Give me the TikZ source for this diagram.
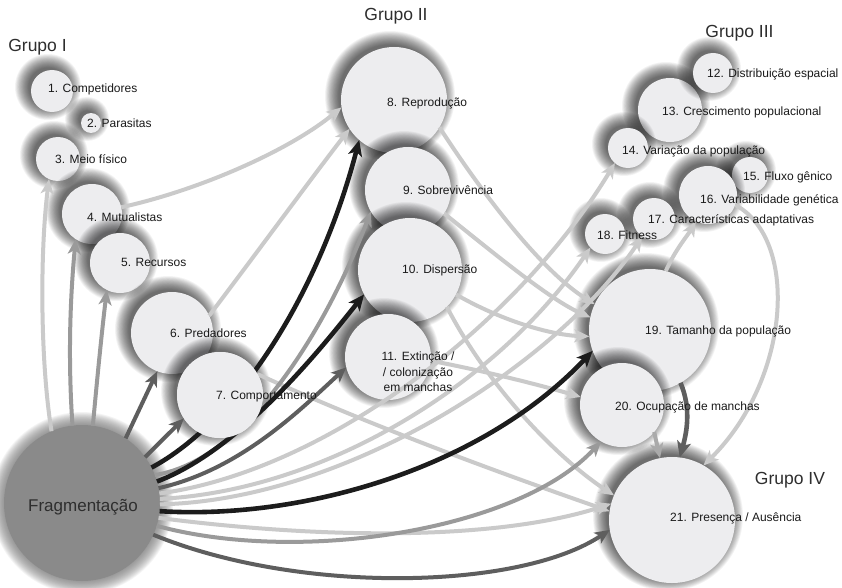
\documentclass[tikz,border=0pt]{standalone}
\usepackage{fontspec}
\setmainfont{Liberation Sans}
\usetikzlibrary{arrows.meta}
\definecolor{lightc}{HTML}{CACACA}
\definecolor{lmidc}{HTML}{AAAAAA}
\definecolor{midc}{HTML}{9A9A9A}
\definecolor{darkc}{HTML}{5E5E5E}
\definecolor{blackc}{HTML}{1C1C1C}
\definecolor{bubfill}{HTML}{EDEDEF}
\definecolor{fragfill}{HTML}{8A8A8A}
\definecolor{txt}{HTML}{1A1A1A}
\definecolor{grpc}{HTML}{2E2E2E}
\newcommand{\bub}[4]{%
  \foreach \k in {0,...,17}{%
    \pgfmathsetlengthmacro{\rr}{#4+12-0.8*\k}%
    \fill[black,opacity=0.045] (#2-4,#3-4) circle[radius=\rr];
  }%
  \node[bubble,minimum size={2*#4pt}] (#1) at (#2,#3) {};
}
\begin{document}
\begin{tikzpicture}[x=1pt,y=-1pt,
  bubble/.style={circle,fill=bubfill,inner sep=0pt,outer sep=0pt},
  lbl/.style={font=\fontsize{12}{14}\selectfont,text=txt,inner sep=0pt,anchor=west},
  grp/.style={font=\fontsize{17.5}{20}\selectfont,text=grpc,inner sep=0pt},
  arr/.style={line width=4pt,-{Stealth[length=15pt,width=13pt,inset=4pt]}},
  arrb/.style={line width=4.6pt,-{Stealth[length=16pt,width=14pt,inset=4pt]}}]
\useasboundingbox (0,0) rectangle (842,588);
\fill[white] (0,0) rectangle (842,588);

% ---------- bubbles ----------
\bub{c1}{52}{91}{21}
\bub{c2}{91}{123}{10}
\bub{c3}{58}{159}{22}
\bub{c4}{92}{214}{30}
\bub{c5}{120}{263}{30}
\bub{c6}{172}{333}{41}
\bub{c7}{220}{395}{43}
\bub{c8}{394}{100}{53}
\bub{c9}{408}{190}{43}
\bub{c10}{410}{270}{52}
\bub{c11}{388}{357}{43}
\bub{c13}{670}{110}{32}
\bub{c12}{713}{73}{20}
\bub{c14}{628}{148}{20}
\bub{c15}{750}{175}{18}
\bub{c16}{708}{195}{29}
\bub{c17}{654}{219}{21}
\bub{c18}{605}{234}{20}
\bub{c19}{650}{330}{61}
\bub{c20}{622}{405}{42}
\bub{c21}{672}{520}{63}

% Fragmentacao
\foreach \k in {0,...,15}{%
  \pgfmathsetlengthmacro{\rr}{91-0.85*\k}%
  \fill[black!55,opacity=0.07] (82,503) circle[radius=\rr];
}
\node[circle,fill=fragfill,inner sep=0pt,outer sep=0pt,minimum size=156pt] (F) at (82,503) {};

% ---------- light arrows ----------
\draw[arr,lightc] (F.113) .. controls (40,360) and (40,250) .. (c3.-114);
\draw[arr,lightc] (c4.13) .. controls (200,190) and (290,150) .. (c8.-172);
\draw[arr,lightc] (c6.25) .. controls (250,262) and (310,180) .. (c8.-147);
\draw[arr,lightc] (F.7) .. controls (330,470) and (520,320) .. (c14.-131);
\draw[arr,lightc] (F.3) .. controls (330,490) and (500,380) .. (c18.-137);
\draw[arr,lightc] (F.-1) .. controls (350,500) and (560,360) .. (c17.-124);
\draw[arr,lightc] (c8.-31) .. controls (480,190) and (540,270) .. (c19.155);
\draw[arr,lightc] (c9.-33) .. controls (490,250) and (550,300) .. (c19.168);
\draw[arr,lightc] (c10.-28) .. controls (500,320) and (550,335) .. (c19.186);
\draw[arr,lightc] (c10.-45) .. controls (490,390) and (560,460) .. (c21.157);
\draw[arr,lightc] (c11.-5) .. controls (480,370) and (540,385) .. (c20.169);
\draw[arr,lightc] (c7.29) .. controls (380,430) and (520,480) .. (c21.172);
\draw[arr,lightc] (F.-11) .. controls (330,540) and (500,540) .. (c21.165);
\draw[arr,lightc] (c19.75) .. controls (675,250) and (688,235) .. (c16.-115);
\draw[arr,lightc] (c16.-20) .. controls (800,240) and (790,380) .. (c21.60);
\draw[arr,lmidc] (c20.-40) -- (c21.101);

% ---------- mid arrows ----------
\draw[arr,midc] (F.97) .. controls (68,360) and (70,300) .. (c4.-123);
\draw[arr,midc] (F.82) .. controls (97,380) and (102,330) .. (c5.-116);
\draw[arr,midc] (F.21) .. controls (250,460) and (330,320) .. (c9.-150);
\draw[arr,midc] (F.-17) .. controls (300,565) and (520,530) .. (c20.-120);

% ---------- dark arrows ----------
\draw[arr,darkc] (F.56) -- (c6.-111);
\draw[arr,darkc] (F.36) -- (c7.-147);
\draw[arr,darkc] (F.11) .. controls (240,470) and (300,410) .. (c11.-166);
\draw[arr,darkc] (F.-24) .. controls (300,595) and (520,590) .. (c21.-171);
\draw[arrb,darkc] (c19.-60) .. controls (692,410) and (686,435) .. (c21.83);

% ---------- black arrows ----------
\draw[arrb,blackc] (F.27) .. controls (240,420) and (320,290) .. (c8.-131);
\draw[arrb,blackc] (F.16) .. controls (240,450) and (320,350) .. (c10.-152);
\draw[arrb,blackc] (F.-6) .. controls (300,520) and (480,470) .. (c19.-160);

% lines that pass behind circle 7
\fill[bubfill] (c7.center) circle[radius=43pt];

% ---------- labels ----------
\node[lbl] (t1) at (48,89) {1. Competidores};
\node[lbl] (t2) at (87,123) {2. Parasitas};
\node[lbl] (t3) at (55,159) {3. Meio físico};
\node[lbl] (t4) at (87,217) {4. Mutualistas};
\node[lbl] (t5) at (121,262) {5. Recursos};
\node[lbl] (t6) at (170,333) {6. Predadores};
\node[lbl] (t7) at (216,397) {7. Comportamento};
\node[lbl] (t8) at (387,103) {8. Reprodução};
\node[lbl] (t9) at (403,190) {9. Sobrevivência};
\node[lbl] (t10) at (402,270) {10. Dispersão};
\node[font=\fontsize{12}{15.5}\selectfont,text=txt,inner sep=0pt,align=center] (t11) at (418,372) {11. Extinção /\\/ colonização\\em manchas};
\node[lbl] (t12) at (707,74) {12. Distribuição espacial};
\node[lbl] (t13) at (662,112) {13. Crescimento populacional};
\node[lbl] (t14) at (622,151) {14. Variação da população};
\node[lbl] (t15) at (743,177) {15. Fluxo gênico};
\node[lbl] (t16) at (700,200) {16. Variabilidade genética};
\node[lbl] (t17) at (648,220) {17. Características adaptativas};
\node[lbl] (t18) at (597,235) {18. Fitness};
\node[lbl] (t19) at (645,331) {19. Tamanho da população};
\node[lbl] (t20) at (615,407) {20. Ocupação de manchas};
\node[lbl] (t21) at (670,518) {21. Presença / Ausência};
\node[font=\fontsize{17}{20}\selectfont,text=grpc,inner sep=0pt] (tF) at (83,507) {Fragmentação};

\node[grp] (g1) at (37.5,47) {Grupo I};
\node[grp] (g2) at (396,16) {Grupo II};
\node[grp] (g3) at (739.5,33) {Grupo III};
\node[grp] (g4) at (790,480) {Grupo IV};
\end{tikzpicture}
\end{document}
